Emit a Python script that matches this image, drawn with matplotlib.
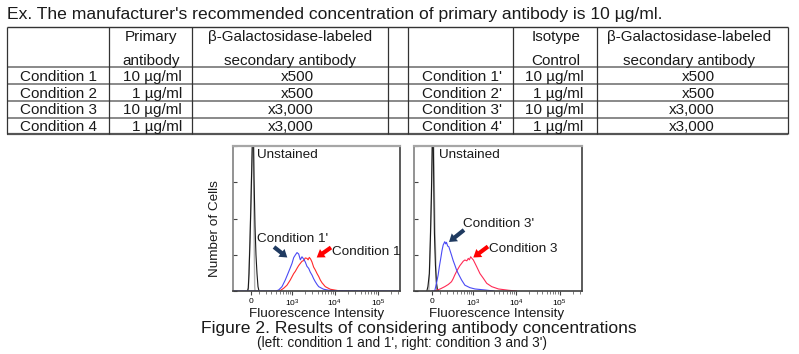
import matplotlib
matplotlib.use('Agg')
import matplotlib.pyplot as plt
from matplotlib.patches import FancyArrowPatch
from matplotlib.ticker import FixedLocator, NullFormatter

plt.rcParams['font.family'] = ['Liberation Sans', 'DejaVu Sans']
plt.rcParams['mathtext.fontset'] = 'custom'
plt.rcParams['mathtext.rm'] = 'Liberation Sans'
plt.rcParams['mathtext.it'] = 'Liberation Sans:italic'
plt.rcParams['mathtext.bf'] = 'Liberation Sans:bold'

# ---------------- data ----------------
title = "Ex. The manufacturer's recommended concentration of primary antibody is 10 \u00b5g/ml."
left_conditions = ["Condition 1", "Condition 2", "Condition 3", "Condition 4"]
right_conditions = ["Condition 1'", "Condition 2'", "Condition 3'", "Condition 4'"]
primary_conc = ["10 \u00b5g/ml", "1 \u00b5g/ml", "10 \u00b5g/ml", "1 \u00b5g/ml"]
isotype_conc = ["10 \u00b5g/ml", "1 \u00b5g/ml", "10 \u00b5g/ml", "1 \u00b5g/ml"]
secondary_dil = ["x500", "x500", "x3,000", "x3,000"]
secondary_dil_r = ["x500", "x500", "x3,000", "x3,000"]
hdr_primary = ["Primary", "antibody"]
hdr_secondary = ["\u03b2-Galactosidase-labeled", "secondary antibody"]
hdr_isotype = ["Isotype", "Control"]

# histograms (fluorescence intensity, % of axis height)
L_unst_x = [-43, -33, -24, -12, 0, 12, 18, 24, 30, 37, 49, 61, 74, 87, 100]
L_unst_y = [0, 2, 12, 35, 62, 92, 105, 120, 110, 78, 45, 25, 12, 3, 0]
L_gray_x = [-33, -12, 0, 12, 22, 28, 36, 45, 49]
L_gray_y = [0, 35, 62, 92, 115, 100, 50, 3, 0]
L_blue_x = [-250, 400, 472, 573, 691, 836, 1003, 1100, 1201, 1320, 1445, 1580, 1726, 1890,
            2064, 2260, 2478, 2700, 2958, 3230, 3532, 3880, 4240, 4900, 5542, 7000, 8647, 330000]
L_blue_y = [0, 0, 0.7, 3, 7.6, 13.3, 19, 23, 24.8, 26.5, 25.5, 21.5, 23.6, 22,
            20, 17, 15.6, 13, 11, 8.5, 6.4, 4.5, 3, 2, 1.2, 0.6, 0.3, 0]
L_red_x = [500, 631, 760, 913, 1101, 1200, 1317, 1440, 1575, 1730, 1893, 2060, 2261, 2400,
           2558, 2750, 2958, 3230, 3532, 3880, 4240, 4640, 5060, 6039, 7895, 12385, 20000]
L_red_y = [0, 1.9, 4, 7.6, 12, 13.5, 15.6, 17.5, 19, 20.5, 21, 22.8, 22.5, 21.5,
           23.2, 22, 20, 16.5, 14.5, 12, 10, 7.5, 5.7, 3, 1.2, 0.2, 0]

R_unst_x = [-64, -51, -33, -21, -8.5, 0, 3.6, 9.7, 15.7, 21.8, 27.9, 40.1, 52.5, 65, 78]
R_unst_y = [0, 3, 12, 35, 65, 95, 110, 120, 95, 65, 40, 18, 6, 1, 0]
R_gray_x = [-39, -21, -8.5, 3.6, 10.9, 19.4, 34, 52.5, 58.7]
R_gray_y = [0, 35, 65, 100, 115, 100, 45, 3, 0]
R_blue_x = [0, 31.6, 52, 73.9, 90, 107.8, 125, 141, 164, 178, 190, 210, 229, 277, 310, 344,
            385, 427, 519, 628, 831, 1095, 1883, 3000]
R_blue_y = [0, 0, 5, 11, 17, 22.5, 28, 31.7, 34, 32.5, 33.6, 31, 30.5, 24.8, 21, 18,
            14.5, 12, 7.6, 4, 2.3, 1.4, 0.7, 0]
R_red_x = [30, 52.5, 100, 164, 220, 277, 310, 344, 385, 427, 470, 519, 570, 628, 700, 760,
           810, 864, 930, 1003, 1201, 1436, 1726, 2064, 2700, 3869, 6615, 10000]
R_red_y = [0, 0.5, 1.4, 3, 4.5, 6.4, 8.5, 11, 13.5, 15.6, 17.5, 19, 20.5, 21.4, 20.8, 22.5,
           21.5, 23.6, 22.5, 21.4, 16.8, 12, 8.7, 5.3, 3, 1.4, 0.5, 0]

x_ticks = [0, 1e3, 1e4, 1e5]
x_ticklabels = ["0", "$10^3$", "$10^4$", "$10^5$"]
x_minor = [100, 200, 300, 400, 500, 600, 700, 800, 900,
           2e3, 3e3, 4e3, 5e3, 6e3, 7e3, 8e3, 9e3,
           2e4, 3e4, 4e4, 5e4, 6e4, 7e4, 8e4, 9e4, 2e5, 3e5]
y_ticks = [0, 25, 50, 75, 100]

# ---------------- layout ----------------
W, H = 799, 354
fig = plt.figure(figsize=(W / 100, H / 100), dpi=100)


def rect(x0, y0, x1, y1):
    return [x0 / W, 1 - y1 / H, (x1 - x0) / W, (y1 - y0) / H]


ax1 = fig.add_axes(rect(233, 146, 400, 291))
ax2 = fig.add_axes(rect(414, 146, 582, 291))
ov = fig.add_axes([0, 0, 1, 1], zorder=10)
ov.set_xlim(0, W)
ov.set_ylim(H, 0)
ov.axis('off')
ov.patch.set_visible(False)

BLUE = '#4a4af5'
RED = '#ff2a2a'
RED2 = '#ff2b55'
NAVY = '#1f3a60'


def style_axis(ax):
    ax.set_xscale('asinh', linear_width=226)
    ax.set_xlim(-253, 3.3e5)
    ax.set_ylim(0, 100)
    ax.xaxis.set_major_locator(FixedLocator(x_ticks))
    ax.xaxis.set_minor_locator(FixedLocator(x_minor))
    ax.xaxis.set_minor_formatter(NullFormatter())
    ax.set_xticklabels(x_ticklabels)
    ax.set_yticks(y_ticks)
    ax.set_yticklabels([])
    ax.tick_params(axis='x', which='major', direction='out', length=3, width=0.8,
                   color='#444444', labelsize=6, pad=2)
    ax.tick_params(axis='x', which='minor', direction='out', length=1.8, width=0.6,
                   color='#666666')
    ax.tick_params(axis='y', direction='in', length=3, width=0.8, color='#444444')
    ax.spines['top'].set_color('#a6a6a6')
    ax.spines['top'].set_linewidth(1.6)
    ax.spines['left'].set_color('#808080')
    ax.spines['left'].set_linewidth(1.2)
    ax.spines['right'].set_color('#404040')
    ax.spines['right'].set_linewidth(1.2)
    ax.spines['bottom'].set_color('#404040')
    ax.spines['bottom'].set_linewidth(1.2)


for ax in (ax1, ax2):
    style_axis(ax)

ax1.plot(L_gray_x, L_gray_y, color='#b4b4b4', lw=1.0)
ax1.plot(L_unst_x, L_unst_y, color='#1a1a1a', lw=0.8)
ax1.plot(L_red_x, L_red_y, color=RED, lw=0.8)
ax1.plot(L_blue_x, L_blue_y, color=BLUE, lw=0.8)

ax2.plot(R_gray_x, R_gray_y, color='#b4b4b4', lw=1.0)
ax2.plot(R_unst_x, R_unst_y, color='#1a1a1a', lw=0.8)
ax2.plot(R_red_x, R_red_y, color=RED2, lw=0.8)
ax2.plot(R_blue_x, R_blue_y, color=BLUE, lw=0.8)

# ---------------- title & table ----------------
TXT = '#1a1a1a'
ov.text(7, 19, title, fontsize=12.6, color=TXT, ha='left', va='baseline')

col_edges = [7, 109, 192, 388, 408, 513, 597, 788]
row_edges = [27, 67, 84, 101, 118, 134]
ov.hlines(row_edges[1:-1], col_edges[0], col_edges[-1], color='#808080', lw=1.3)
ov.hlines([row_edges[0]], col_edges[0], col_edges[-1], color='#333333', lw=1.0)
ov.hlines([row_edges[-1]], col_edges[0], col_edges[-1], color='#555555', lw=1.6)
ov.vlines(col_edges, row_edges[0], row_edges[-1], color='#333333', lw=0.9)

TFS = 11.0
hdr_base = [41, 65]
row_base = [81, 97.7, 114.3, 131]
for i, s in enumerate(hdr_primary):
    ov.text(151, hdr_base[i], s, fontsize=TFS, color=TXT, ha='center', va='baseline')
for i, s in enumerate(hdr_secondary):
    ov.text(290, hdr_base[i], s, fontsize=TFS, color=TXT, ha='center', va='baseline')
    ov.text(689, hdr_base[i], s, fontsize=TFS, color=TXT, ha='center', va='baseline')
for i, s in enumerate(hdr_isotype):
    ov.text(556, hdr_base[i], s, fontsize=TFS, color=TXT, ha='center', va='baseline')
for i in range(4):
    yb = row_base[i]
    ov.text(58, yb, left_conditions[i], fontsize=TFS, color=TXT, ha='center', va='baseline')
    ov.text(182, yb, primary_conc[i], fontsize=TFS, color=TXT, ha='right', va='baseline')
    ov.text(313.5, yb, secondary_dil[i], fontsize=TFS, color=TXT, ha='right', va='baseline')
    ov.text(462, yb, right_conditions[i], fontsize=TFS, color=TXT, ha='center', va='baseline')
    ov.text(583.5, yb, isotype_conc[i], fontsize=TFS, color=TXT, ha='right', va='baseline')
    ov.text(715, yb, secondary_dil_r[i], fontsize=TFS, color=TXT, ha='right', va='baseline')

# ---------------- plot annotations ----------------
AFS = 9.7
ov.text(257.3, 158.3, "Unstained", fontsize=AFS, color=TXT, ha='left', va='baseline')
ov.text(439, 158.3, "Unstained", fontsize=AFS, color=TXT, ha='left', va='baseline')
ov.text(257.3, 241.7, "Condition 1'", fontsize=AFS, color=TXT, ha='left', va='baseline')
ov.text(331.7, 255, "Condition 1", fontsize=AFS, color=TXT, ha='left', va='baseline')
ov.text(463.3, 226.7, "Condition 3'", fontsize=AFS, color=TXT, ha='left', va='baseline')
ov.text(489.3, 251.7, "Condition 3", fontsize=AFS, color=TXT, ha='left', va='baseline')

arrows = [((274, 247), (287.3, 257.5), NAVY),
          ((331, 247.5), (316.7, 257.5), '#ff0000'),
          ((464, 230), (449, 242), NAVY),
          ((488, 246.5), (473.3, 257.5), '#ff0000')]
for tail, head, c in arrows:
    ov.add_patch(FancyArrowPatch(tail, head,
                                 arrowstyle='simple,head_length=0.9,head_width=1.2,tail_width=0.5',
                                 mutation_scale=6, color=c, lw=0,
                                 shrinkA=0, shrinkB=0))

ov.text(215, 229, "Number of Cells", fontsize=AFS, color=TXT, rotation=90,
        ha='center', va='center')
ov.text(316.5, 317, "Fluorescence Intensity", fontsize=AFS, color=TXT, ha='center', va='baseline')
ov.text(497, 317, "Fluorescence Intensity", fontsize=AFS, color=TXT, ha='center', va='baseline')
ov.text(418.5, 332.7, "Figure 2. Results of considering antibody concentrations",
        fontsize=12.6, color=TXT, ha='center', va='baseline')
ov.text(402, 346.7, "(left: condition 1 and 1', right: condition 3 and 3')",
        fontsize=9.8, color=TXT, ha='center', va='baseline')

fig.savefig('out.png', dpi=100)
